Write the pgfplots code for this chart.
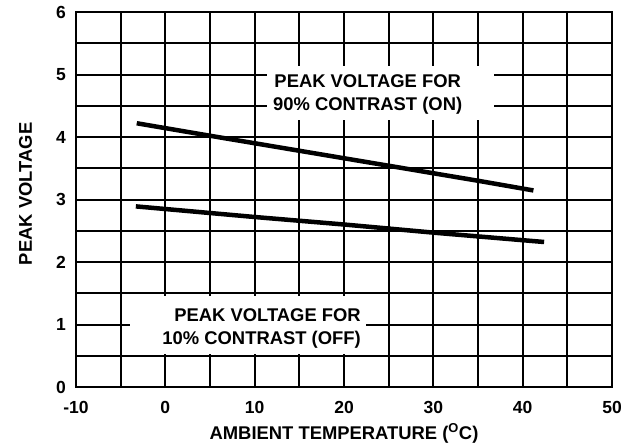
\documentclass[border=0pt]{standalone}
\usepackage{pgfplots}
\pgfplotsset{compat=1.18}
\usepackage{fontspec}
\setmainfont{Liberation Sans}
\newcommand{\lbl}{\fontsize{18.4bp}{23bp}\selectfont\bfseries}
\newcommand{\tck}{\fontsize{17.5bp}{20bp}\selectfont\bfseries}
\begin{document}
\begin{tikzpicture}
\begin{axis}[
  at={(76bp,61bp)}, anchor=south west,
  scale only axis, width=536bp, height=375bp,
  xmin=-10, xmax=50, ymin=0, ymax=6,
  xtick={-10,0,10,20,30,40,50},
  xticklabels={-10,0,10,20,30,40,50},
  ytick={0,1,2,3,4,5,6},
  yticklabels={0,1,2,3,4,5,6},
  minor xtick={-5,5,15,25,35,45},
  minor ytick={0.5,1.5,2.5,3.5,4.5,5.5},
  grid=both,
  major grid style={black, line width=2bp},
  minor grid style={black, line width=2bp},
  axis line style={black, line width=2.4bp},
  major tick length=0pt, minor tick length=0pt,
  xticklabel style={font=\tck, anchor=north, inner sep=0pt, yshift=-14.5bp},
  yticklabel style={font=\tck, anchor=east, inner sep=0pt, xshift=-10bp},
  xlabel={AMBIENT TEMPERATURE (\textsuperscript{O}C)},
  ylabel={PEAK VOLTAGE},
  xlabel style={font=\lbl, at={(axis description cs:0.5,-0.1387)}, anchor=base},
  ylabel style={font=\lbl, at={(axis description cs:-0.0821,0.515)}, anchor=base},
  clip=false,
]
\fill[white] (axis cs:11.4,4.28) rectangle (axis cs:36.75,5.13);
\node[font=\lbl, align=center, anchor=north, inner sep=0pt] at (axis cs:22.65,5.0) {PEAK VOLTAGE FOR\\90\% CONTRAST (ON)};
\fill[white] (axis cs:-4.0,0.53) rectangle (axis cs:22.5,1.46);
\node[font=\lbl, align=right, anchor=north east, inner sep=0pt] at (axis cs:21.9,1.264) {PEAK VOLTAGE FOR\\10\% CONTRAST (OFF)};
\addplot[black, line width=4.5bp] coordinates {(-3.2,4.22) (5,4.02) (15,3.78) (25,3.54) (35,3.30) (41.2,3.145)};
\addplot[black, line width=4.5bp] coordinates {(-3.3,2.89) (10,2.72) (20,2.60) (30,2.47) (42.4,2.32)};
\end{axis}
\pgfresetboundingbox
\path[use as bounding box] (0,0) rectangle (636bp,448bp);
\end{tikzpicture}
\end{document}
